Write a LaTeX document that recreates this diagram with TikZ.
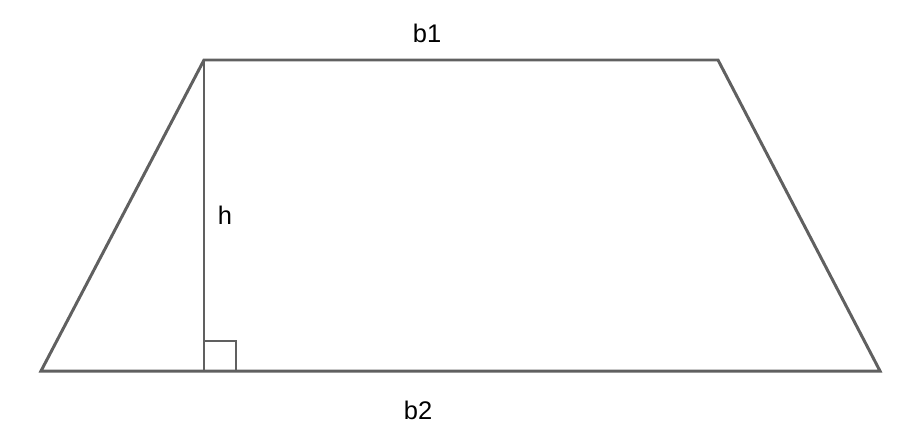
\documentclass[tikz,border=0pt]{standalone}
\usepackage{fontspec}
\setmainfont{Liberation Sans}
\usetikzlibrary{arrows.meta}
\definecolor{edgegray}{HTML}{606060}
\tikzset{
    edge/.style={edgegray, line width=1.7pt, line join=miter},
    lbl/.style={font=\fontsize{14.5}{17}\selectfont, text=black}
}

\begin{document}
\begin{tikzpicture}

    \useasboundingbox (0,0) rectangle (18.28,8.68);

    % corners
    \coordinate (tl) at (4.08,7.48);
    \coordinate (tr) at (14.36,7.48);
    \coordinate (br) at (17.6,1.26);
    \coordinate (bl) at (0.82,1.26);
    \coordinate (foot) at (4.08,1.26);

    % trapezoid
    \draw[edge] (bl) -- (tl) -- (tr) -- (br) -- cycle;

    % height
    \draw[edge] (tl) to (foot);
    \draw[edge] ([yshift=0.6cm]foot) -- ++(0.64,0) -- ++(0,-0.6); % right angle

    % labels
    \node[lbl] (b1) at (8.54,8.02) {b1}; % top
    \node[lbl] (h) at (4.5,4.38) {h};
    \node[lbl] (b2) at (8.36,0.48) {b2}; % bottom

\end{tikzpicture}
\end{document}
